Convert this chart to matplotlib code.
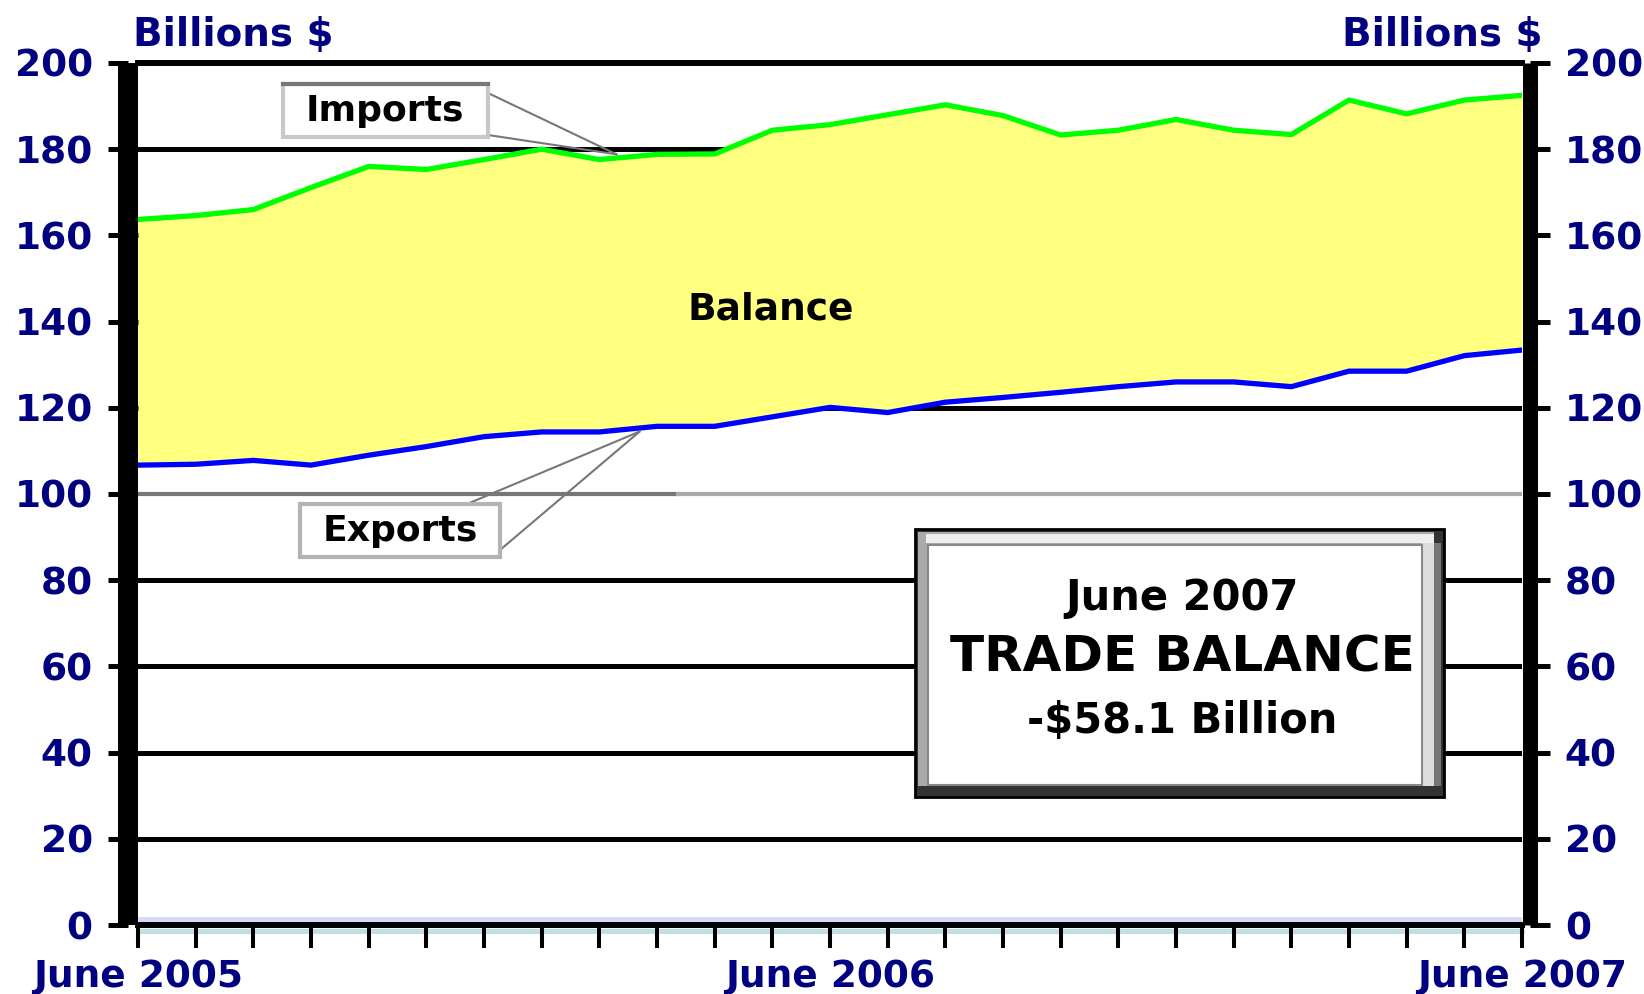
import numpy as np
import matplotlib.pyplot as plt
from matplotlib.patches import Rectangle

# monthly trade, June 2005 .. June 2007, billions of dollars
months = ['June 2005', 'Jul', 'Aug', 'Sep', 'Oct', 'Nov', 'Dec',
          'Jan', 'Feb', 'Mar', 'Apr', 'May',
          'June 2006', 'Jul', 'Aug', 'Sep', 'Oct', 'Nov', 'Dec',
          'Jan', 'Feb', 'Mar', 'Apr', 'May', 'June 2007']
imports = [163.7, 164.6, 166.0, 171.1, 176.0, 175.3, 177.6, 180.0, 177.6,
           178.8, 178.9, 184.4, 185.7, 188.0, 190.3, 187.8, 183.3, 184.4,
           186.9, 184.4, 183.4, 191.4, 188.2, 191.4, 192.5]
exports = [106.7, 106.9, 107.8, 106.7, 109.0, 111.0, 113.3, 114.4, 114.4,
           115.7, 115.7, 117.9, 120.1, 118.9, 121.3, 122.4, 123.6, 124.9,
           126.0, 126.0, 124.9, 128.5, 128.5, 132.1, 133.4]
yticks = [0, 20, 40, 60, 80, 100, 120, 140, 160, 180, 200]
grid_black = [20, 40, 60, 80, 120, 140, 160, 180]

W, H = 1644, 994
NAVY = '#000080'
FONT = 'DejaVu Sans'

def fx(x, y):
    # figure pixel (from top-left) -> figure fraction
    return (x / W, 1 - y / H)

def frect(x0, y0, x1, y1, **kw):
    r = Rectangle(fx(x0, y1), (x1 - x0) / W, (y1 - y0) / H,
                  transform=fig.transFigure, **kw)
    fig.add_artist(r)

fig = plt.figure(figsize=(W / 100, H / 100), dpi=100)
ax = fig.add_axes([138 / W, 1 - 925 / H, (1522 - 138) / W, (925 - 63) / H])

x = np.arange(len(months))

#grid under the fill
for g in grid_black:
    ax.axhline(g, color='black', lw=3.6, zorder=1)
ax.axhline(100, xmax=0.39, color='#777777', lw=3.0, zorder=1)
ax.axhline(100, xmin=0.39, color='#aaaaaa', lw=3.0, zorder=1)
ax.axhline(1.3, color='#d8d8f8', lw=3.6, zorder=1)
ax.axhline(-1.3, color='#bde0e6', lw=3.6, zorder=1, clip_on=False)

ax.fill_between(x, exports, imports, color='#ffff80', zorder=2, lw=0)
ax.plot(x, imports, color='#00ff00', lw=3.8, zorder=3)
ax.plot(x, exports, color='#0000ff', lw=3.8, zorder=3)

ax.set_xlim(0, 24)
ax.set_ylim(0, 200)

#axes styling
for side in ['top', 'bottom']:
    ax.spines[side].set_linewidth(4.3)
ax.spines['left'].set_position(('outward', 7.2))
ax.spines['left'].set_linewidth(14.4)
ax.spines['left'].set_capstyle('butt')
ax.spines['right'].set_position(('outward', 5.4))
ax.spines['right'].set_linewidth(10.8)
ax.spines['right'].set_capstyle('butt')

ax.set_yticks(yticks)
ax.set_yticklabels([str(v) for v in yticks])
ax.tick_params(axis='y', left=True, right=True, labelleft=True, labelright=True,
               direction='out', length=14.4, width=3.6, pad=11,
               labelsize=27, labelcolor=NAVY)
ax.set_xticks(x)
ax.set_xticklabels([m if m.startswith('June') else '' for m in months])
ax.tick_params(axis='x', direction='out', length=16.5, width=2.9, pad=8,
               labelsize=27, labelcolor=NAVY)
for lab in ax.get_xticklabels() + ax.get_yticklabels():
    lab.set_fontweight('bold')
    lab.set_family(FONT)

#axis titles
fig.text(*fx(233, 35), 'Billions $', color=NAVY, fontsize=28, fontweight='bold',
         ha='center', va='center')
fig.text(*fx(1442, 35), 'Billions $', color=NAVY, fontsize=28, fontweight='bold',
         ha='center', va='center')

#series labels with leader lines
lead = dict(arrowstyle='-', color='#777777', lw=1.5, shrinkA=0, shrinkB=0)
for start in [(488, 93), (488, 135)]:
    ax.annotate('', xy=(8.3, 178.8), xycoords='data', xytext=fx(*start),
                textcoords='figure fraction', arrowprops=lead,
                annotation_clip=False, zorder=4)
for start in [(467, 504), (500, 550)]:
    ax.annotate('', xy=(8.7, 114.5), xycoords='data', xytext=fx(*start),
                textcoords='figure fraction', arrowprops=lead,
                annotation_clip=False, zorder=4)

frect(283, 84, 488, 137, facecolor='white', edgecolor='#c8c8c8', lw=3)
fig.add_artist(plt.Line2D([283 / W, 488 / W], [1 - 84 / H] * 2, color='#777777', lw=3))
fig.text(*fx(385, 111), 'Imports', fontsize=26, fontweight='bold', ha='center', va='center')

frect(300, 504, 500, 557, facecolor='white', edgecolor='#b4b4b4', lw=3)
fig.text(*fx(400, 531), 'Exports', fontsize=26, fontweight='bold', ha='center', va='center')

fig.text(*fx(771, 309), 'Balance', fontsize=27, fontweight='bold', ha='center', va='center')

#trade balance box, bevelled
frect(915, 529, 1444, 797, facecolor='#333333', edgecolor='black', lw=2)
frect(918, 532, 1434, 786, facecolor='#aaaaaa', lw=0)
frect(926, 534, 1434, 543, facecolor='#eeeeee', lw=0)
frect(1422, 543, 1434, 786, facecolor='#dddddd', lw=0)
frect(1434, 543, 1441, 786, facecolor='#777777', lw=0)
frect(928, 545, 1422, 785, facecolor='white', edgecolor='#888888', lw=1.5)
fig.text(*fx(1182, 598), 'June 2007', fontsize=30, fontweight='bold', ha='center', va='center')
fig.text(*fx(1182, 657), 'TRADE BALANCE', fontsize=36, fontweight='bold', ha='center', va='center')
fig.text(*fx(1182, 721), '-$58.1 Billion', fontsize=30, fontweight='bold', ha='center', va='center')

fig.savefig('out.png', dpi=100)
